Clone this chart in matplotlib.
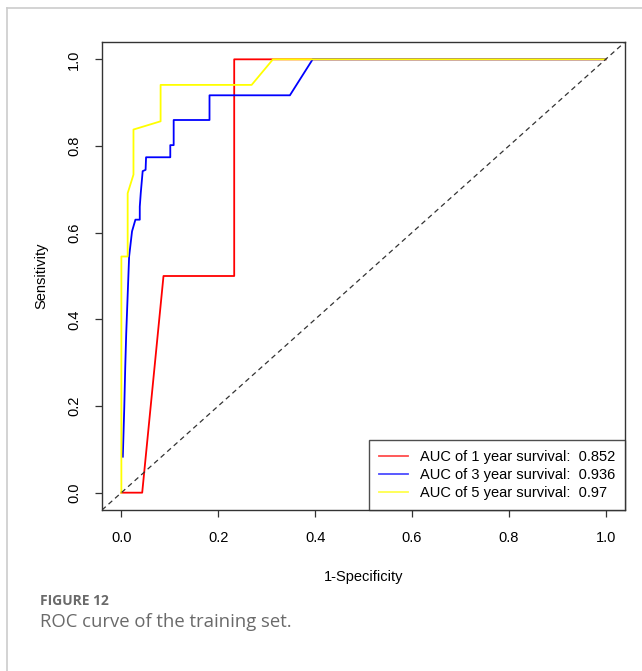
import numpy as np
import matplotlib
matplotlib.use("Agg")
import matplotlib.pyplot as plt
from matplotlib.lines import Line2D

# ROC points (1-specificity, sensitivity)
fpr_1y = [0.0, 0.043, 0.087, 0.233, 0.233, 0.313, 1.0]
tpr_1y = [0.0, 0.0, 0.5, 0.5, 1.0, 1.0, 1.0]

fpr_3y = [0.003, 0.003, 0.006, 0.008, 0.010, 0.016, 0.022, 0.029, 0.038, 0.038,
          0.040, 0.044, 0.050, 0.051, 0.101, 0.101, 0.108, 0.108, 0.182, 0.182,
          0.348, 0.395, 1.0]
tpr_3y = [0.083, 0.083, 0.197, 0.290, 0.367, 0.545, 0.603, 0.630, 0.630, 0.660,
          0.691, 0.742, 0.745, 0.774, 0.774, 0.802, 0.802, 0.860, 0.860, 0.917,
          0.917, 1.0, 1.0]

fpr_5y = [0.0, 0.0, 0.013, 0.013, 0.025, 0.025, 0.081, 0.081, 0.269, 0.313, 1.0]
tpr_5y = [0.0, 0.545, 0.545, 0.691, 0.734, 0.838, 0.857, 0.941, 0.941, 1.0, 1.0]

auc_labels = ["AUC of 1 year survival:  0.852",
              "AUC of 3 year survival:  0.936",
              "AUC of 5 year survival:  0.97"]
ticks = [0.0, 0.2, 0.4, 0.6, 0.8, 1.0]

plt.rcParams['font.family'] = ['Liberation Sans', 'DejaVu Sans']

fig = plt.figure(figsize=(6.42, 6.71), dpi=100)
ax = fig.add_axes([102/642, 1 - 510/671, 523/642, 468/671])

ax.plot(fpr_1y, tpr_1y, color='#FF0000', lw=1.3, label=auc_labels[0])
ax.plot(fpr_3y, tpr_3y, color='#0000FF', lw=1.3, label=auc_labels[1])
ax.plot(fpr_5y, tpr_5y, color='#FFFF00', lw=1.3, label=auc_labels[2])
ax.axline((0, 0), (1, 1), color='#333333', lw=0.9, ls=(0, (4, 3)))

ax.set_xlim(-0.04, 1.04)
ax.set_ylim(-0.04, 1.04)
ax.set_xticks(ticks)
ax.set_yticks(ticks)
ax.set_xticklabels(["%.1f" % t for t in ticks])
ax.set_yticklabels(["%.1f" % t for t in ticks], rotation=90, va='center')
ax.tick_params(direction='out', length=5, width=0.9, labelsize=10.5,
               color='#333333')
ax.tick_params(axis='x', pad=10)
ax.tick_params(axis='y', pad=10)
for s in ax.spines.values():
    s.set_color('#333333')
    s.set_linewidth(1.0)

ax.set_xlabel("1-Specificity", fontsize=10.5, labelpad=18)
ax.set_ylabel("Sensitivity", fontsize=10.5, labelpad=13.5)

leg = ax.legend(loc='lower right', fontsize=10.5, frameon=True, fancybox=False,
                borderaxespad=0, handlelength=2.0, labelspacing=0.27,
                borderpad=0.7, handletextpad=0.8)
leg.get_frame().set_edgecolor('#222222')
leg.get_frame().set_linewidth(1.0)
for h in leg.get_lines():
    h.set_alpha(0.7)

# outer page frame
fig.add_artist(Line2D([7/642, 7/642], [0, 1 - 8/671], color='#cccccc', lw=1.2))
fig.add_artist(Line2D([7/642, 1], [1 - 8/671, 1 - 8/671], color='#cccccc', lw=1.2))

fig.text(40/642, 1 - 601/671, "FIGURE 12", fontsize=10, fontweight='bold',
         color='#6a6a6a', family=['Open Sans', 'DejaVu Sans'], va='center')
fig.text(40/642, 1 - 622/671, "ROC curve of the training set.", fontsize=13.3,
         color='#6a6a6a', family=['Open Sans', 'DejaVu Sans'], va='center')

fig.savefig("out.png", dpi=100, facecolor='white')
